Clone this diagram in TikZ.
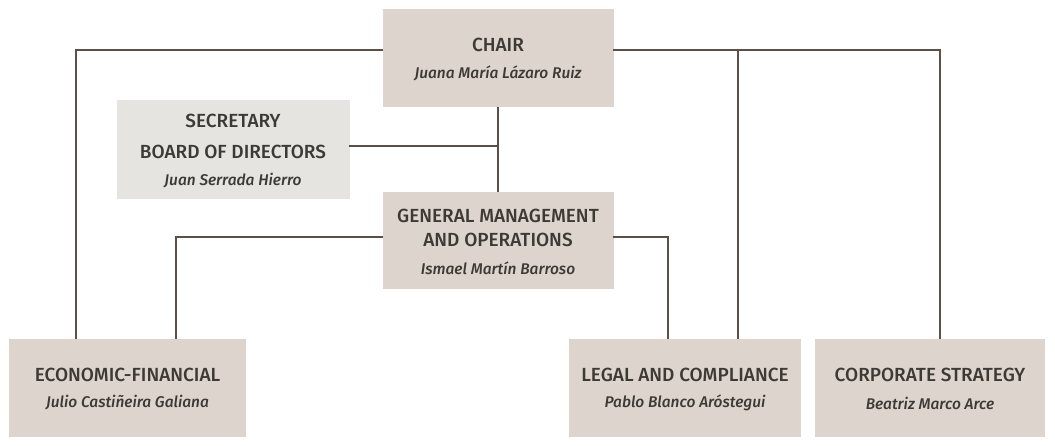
\documentclass[tikz,border=0pt]{standalone}
\usepackage{fontspec}
\setmainfont{Fira Sans}[UprightFont=* Medium,ItalicFont=* Medium Italic]
\definecolor{boxfill}{HTML}{DDD5CD}
\definecolor{secfill}{HTML}{E6E4E0}
\definecolor{linec}{HTML}{5A5048}
\definecolor{txt}{HTML}{3D3935}
\begin{document}
\begin{tikzpicture}[x=1pt,y=-1pt,
  unit/.style={fill=boxfill,draw=none,minimum width=#1,minimum height=98pt,inner sep=0pt,anchor=north west},
  unit/.default=231pt,
  title/.style={text=txt,font=\fontsize{19}{22}\selectfont},
  person/.style={text=txt,font=\fontsize{15.5}{18}\selectfont\itshape},
  conn/.style={draw=linec,line width=1.8pt}]
\useasboundingbox (0,0) rectangle (1055,446);
% boxes
\node[unit] (chair) at (383,9) {};
\node[unit=233pt,fill=secfill,minimum height=99pt] (sec) at (117,100) {};
\node[unit,minimum height=97pt] (gm) at (383,192) {};
\node[unit=237pt] (eco) at (9,339) {};
\node[unit=232pt] (legal) at (569,339) {};
\node[unit=230pt] (corp) at (815,339) {};
% texts
\node[title] (chairT) at (498,45) {CHAIR};
\node[person] (chairP) at (498,73) {Juana María Lázaro Ruiz};
\node[title] (secT1) at (233,121) {SECRETARY};
\node[title] (secT2) at (233,152) {BOARD OF DIRECTORS};
\node[person] (secP) at (233,181) {Juan Serrada Hierro};
\node[title] (gmT1) at (498,216) {GENERAL MANAGEMENT};
\node[title] (gmT2) at (498,240) {AND OPERATIONS};
\node[person] (gmP) at (498,268) {Ismael Martín Barroso};
\node[title] (ecoT) at (127.5,375) {ECONOMIC-FINANCIAL};
\node[person] (ecoP) at (127.5,403) {Julio Castiñeira Galiana};
\node[title] (legalT) at (685,375) {LEGAL AND COMPLIANCE};
\node[person] (legalP) at (685,403) {Pablo Blanco Aróstegui};
\node[title] (corpT) at (930,375) {CORPORATE STRATEGY};
\node[person] (corpP) at (930,403) {Beatriz Marco Arce};
% junction coordinates
\coordinate (ecoL) at (76,339);
\coordinate (ecoR) at (176,339);
\coordinate (legL) at (668,339);
\coordinate (legR) at (738,339);
\coordinate (corpC) at (940,339);
\coordinate (chairL) at (383,50);
\coordinate (chairR) at (613,50);
\coordinate (gmL) at (383,237);
\coordinate (gmR) at (613,237);
\coordinate (secR) at (349,146);
\coordinate (chairB) at (498,107);
\coordinate (gmTop) at (498,192);
% connectors
\draw[conn] (chairL) -| (ecoL);
\draw[conn] (chairR) -| (corpC);
\draw[conn] (chairR -| legR) -- (legR);
\draw[conn] (chairB) -- (gmTop);
\draw[conn] (secR) -- (secR -| chairB);
\draw[conn] (gmL) -| (ecoR);
\draw[conn] (gmR) -| (legL);
\end{tikzpicture}
\end{document}
